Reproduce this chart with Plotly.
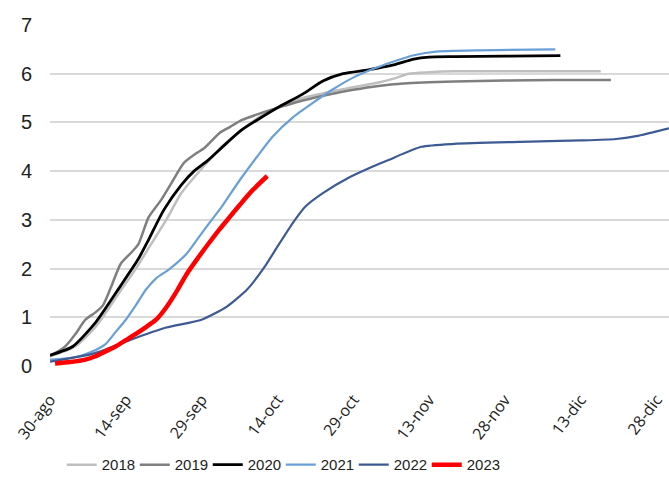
import plotly.graph_objects as go

# Days counted from 30 August; tick labels every 15 days
tick_days = [0, 15, 30, 45, 60, 75, 90, 105, 120]
tick_labels = ["30-ago", "14-sep", "29-sep", "14-oct", "29-oct",
               "13-nov", "28-nov", "13-dic", "28-dic"]

days_2018 = [0, 5, 9, 14, 17, 20, 23, 26, 30, 34, 38, 42, 46, 50, 55, 60, 65, 68, 71, 75, 80, 90, 100, 109]
vals_2018 = [0.2, 0.4, 0.8, 1.55, 2.0, 2.5, 3.0, 3.55, 4.05, 4.5, 4.85, 5.15, 5.35, 5.5, 5.62, 5.72, 5.82, 5.9, 6.0, 6.03, 6.05, 6.05, 6.05, 6.05]

days_2019 = [0, 3, 5, 7, 9, 10.5, 12, 14, 16, 17.5, 19.5, 22, 24, 26.5, 29, 30.5, 33.5, 35.5, 38, 42, 46, 50, 55, 60, 65, 70, 80, 90, 100, 111]
vals_2019 = [0.2, 0.4, 0.65, 0.95, 1.1, 1.25, 1.6, 2.1, 2.32, 2.5, 3.05, 3.41, 3.75, 4.17, 4.37, 4.47, 4.78, 4.9, 5.05, 5.2, 5.33, 5.45, 5.57, 5.67, 5.75, 5.8, 5.84, 5.86, 5.87, 5.87]

days_2020 = [0, 4.5, 9, 14, 17.5, 19.5, 22.5, 26, 28.5, 31, 35, 38, 41, 45, 50, 54, 58, 63, 68, 72, 75, 80, 90, 101]
vals_2020 = [0.22, 0.4, 0.89, 1.65, 2.2, 2.59, 3.2, 3.72, 4.0, 4.2, 4.58, 4.85, 5.05, 5.3, 5.58, 5.85, 6.0, 6.08, 6.18, 6.3, 6.34, 6.35, 6.36, 6.37]

days_2021 = [0, 5, 8, 11, 13, 15, 17, 19, 21, 23.5, 27, 29.5, 32, 34, 36, 38, 41, 44, 48, 52, 56, 60, 64, 68, 72, 76, 85, 100]
vals_2021 = [0.13, 0.18, 0.28, 0.45, 0.7, 0.95, 1.25, 1.57, 1.8, 1.98, 2.3, 2.65, 3.0, 3.27, 3.58, 3.88, 4.3, 4.7, 5.1, 5.4, 5.68, 5.92, 6.1, 6.25, 6.38, 6.45, 6.48, 6.5]

days_2022 = [0, 8, 11, 16, 23, 30, 35, 39, 42.5, 45, 48, 50.5, 54, 59, 64, 67, 73.5, 80, 93, 105, 112, 116, 122.5]
vals_2022 = [0.09, 0.24, 0.34, 0.54, 0.79, 0.95, 1.22, 1.57, 2.04, 2.45, 2.93, 3.27, 3.55, 3.86, 4.1, 4.23, 4.5, 4.56, 4.6, 4.63, 4.66, 4.72, 4.88]

days_2023 = [1, 4, 7, 9, 11, 13, 15, 17, 19, 21, 23, 25, 27, 29.5, 31.5, 33.5, 35.5, 37.5, 40, 43]
vals_2023 = [0.05, 0.08, 0.13, 0.2, 0.3, 0.4, 0.53, 0.66, 0.8, 0.95, 1.2, 1.52, 1.88, 2.25, 2.53, 2.8, 3.05, 3.3, 3.6, 3.9]

series = [
    ("2018", days_2018, vals_2018, "#BFBFBF", 2.5),
    ("2019", days_2019, vals_2019, "#7F7F7F", 2.5),
    ("2020", days_2020, vals_2020, "#000000", 2.8),
    ("2021", days_2021, vals_2021, "#6A9FD6", 2.2),
    ("2022", days_2022, vals_2022, "#3E5A93", 2.2),
    ("2023", days_2023, vals_2023, "#FF0000", 4.5),
]

fig = go.Figure()
for name, xs, ys, color, width in series:
    fig.add_trace(go.Scatter(
        x=xs, y=ys, name=name, mode="lines",
        line=dict(color=color, width=width, shape="spline", smoothing=0.6),
    ))

label_font = "Liberation Sans, Arial, sans-serif"

fig.update_layout(
    width=669, height=502,
    margin=dict(l=50, r=0, t=25, b=136, autoexpand=False),
    plot_bgcolor="white", paper_bgcolor="white",
    showlegend=True,
    legend=dict(
        orientation="h", x=0.019, xanchor="left", y=-0.29, yanchor="middle",
        font=dict(family=label_font, size=15, color="#222222"),
        itemwidth=30, entrywidth=28, entrywidthmode="pixels",
    ),
    xaxis=dict(
        range=[0, 122.5], tickmode="array", tickvals=tick_days, ticktext=tick_labels,
        tickangle=-53, showgrid=False, zeroline=False, showline=False,
        ticks="outside", ticklen=17, tickcolor="rgba(0,0,0,0)",
        ticklabeloverflow="allow",
        tickfont=dict(family="Open Sans, sans-serif", size=16, color="#222222"),
    ),
    yaxis=dict(
        range=[0, 7], dtick=1, showgrid=True, gridcolor="#D9D9D9", gridwidth=1.5,
        zeroline=False, showline=False, ticklabelstandoff=17,
        tickfont=dict(family=label_font, size=20, color="#222222"),
    ),
)

fig.write_html("out.html")
